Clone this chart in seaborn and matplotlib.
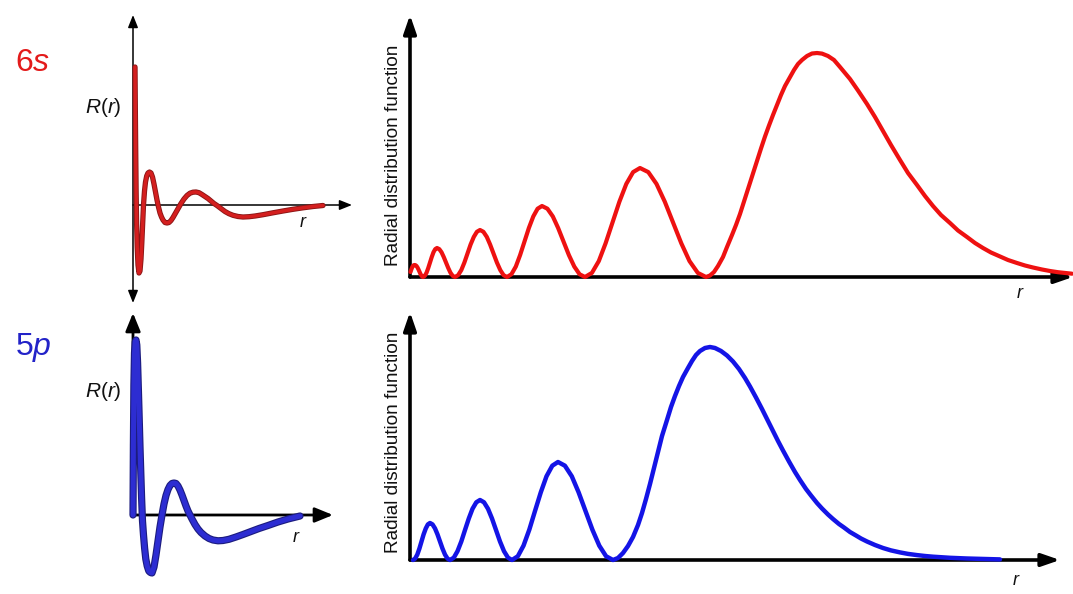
import matplotlib
matplotlib.use("Agg")
import numpy as np
import matplotlib.pyplot as plt
import matplotlib.patheffects as pe
import seaborn as sns

# --- values (arbitrary units) ---
# 6s radial wavefunction R(r)
r_6s_wave = [2, 2.3, 2.7, 3.1, 3.6, 4.2, 5, 6, 7, 8, 8.8, 9.6, 10.5, 11.5, 12.5, 13.7, 15,
             16.5, 18, 19.5, 21, 22.5, 24, 25.5, 27, 28.5, 30, 32, 34, 36, 38, 40, 42, 44,
             46, 48, 51, 54, 57, 60, 63, 66, 69, 72, 75, 78, 81, 84, 88, 92, 96, 100, 105,
             110, 116, 122, 130, 140, 150, 160, 170, 180, 190]
R_6s = [138, 100, 55, 15, -18, -42, -60, -68, -66, -54, -38, -20, 0, 14, 23, 29, 32,
        33, 32, 28, 21, 13, 5, -2, -8, -12, -15, -17.5, -18, -17.5, -15.5, -12.5, -9, -5.5,
        -2, 1.5, 6, 9.5, 11.8, 12.8, 13, 12.3, 10.5, 8.5, 6.5, 4, 1.5, -0.5, -3.5, -6.5, -8.7,
        -10.3, -11.5, -12, -11.7, -11, -9.7, -7.8, -6, -4.3, -2.8, -1.5, -0.5]

# 5p radial wavefunction R(r)
r_5p_wave = [0, 0.4, 0.9, 1.5, 2.2, 3, 3.8, 4.6, 5.4, 6.2, 7, 7.8, 8.6, 9.5, 10.5, 11.6,
             12.8, 14.2, 15.8, 17.4, 19, 21, 23, 25, 27, 29, 31, 33, 35, 37, 39, 41, 43, 45,
             47, 49, 51, 53, 55, 57, 59, 62, 65, 68, 72, 76, 80, 85, 90, 96, 103, 110, 118,
             126, 135, 145, 155, 167]
R_5p = [0, 70, 130, 162, 173, 175, 170, 152, 125, 97, 68, 42, 17, -6, -20, -33,
        -44, -51, -56, -57.5, -58, -52, -40, -26, -12, 0, 11, 19.5, 25.5, 29.5, 31.5, 32, 31.5, 29,
        25, 20, 14.5, 9, 4, 0, -4, -9.5, -14, -17.5, -21, -23.5, -25, -25.8, -25.5, -24.3, -22, -19.5, -16.5,
        -13.5, -10.5, -7, -4, -1]

# 6s radial distribution function
r_6s_rdf = [0.5, 1.5, 2.5, 3.5, 4.5, 5.5, 6.5, 7.5, 8.5, 9.5, 10.5, 11.5, 12.5, 13,
            14.75, 16.5, 18.25, 20, 21.75, 23.5, 25.25, 27,
            29.25, 31.5, 33.75, 36, 38.25, 40.5, 42.75, 45,
            48.1, 51.3, 54.4, 57.5, 60.6, 63.8, 66.9, 70,
            73.4, 76.8, 80.1, 83.5, 86.9, 90.3, 93.6, 97,
            101.4, 105.8, 110.1, 114.5, 118.9, 123.3, 127.6, 132,
            137.4, 142.8, 148.1, 153.5, 158.9, 164.3, 169.6, 175,
            181.9, 188.8, 195.6, 202.5, 209.4, 216.3, 223.1, 230,
            238.3, 246.5, 254.8, 263, 271.3, 279.5, 287.8, 296,
            300, 304, 308, 313, 317, 322, 326, 330, 334, 338, 342, 347, 351, 355, 359, 363,
            367, 371, 375, 380, 384, 388, 392, 397, 402, 407, 412, 418, 424, 430, 440, 448,
            457, 465, 473, 481, 490, 498, 507, 515, 523, 531, 540, 548, 557, 565, 573, 581,
            590, 598, 607, 615, 623, 632, 640, 648, 657, 662]
P_6s = [5, 8, 10.5, 11.7, 12, 11.8, 11, 9.5, 7.5, 5.2, 3, 1.2, 0.2, 0,
        1.1, 4.2, 9.0, 14.5, 20.0, 24.8, 27.9, 29,
        27.9, 24.8, 20.0, 14.5, 9.0, 4.2, 1.1, 0,
        1.8, 6.9, 14.5, 23.5, 32.5, 40.1, 45.2, 47,
        45.2, 40.1, 32.5, 23.5, 14.5, 6.9, 1.8, 0,
        2.7, 10.4, 21.9, 35.5, 49.1, 60.6, 68.3, 71,
        68.3, 60.6, 49.1, 35.5, 21.9, 10.4, 2.7, 0,
        4.1, 15.9, 33.7, 54.5, 75.3, 93.1, 104.9, 109,
        104.9, 93.1, 75.3, 54.5, 33.7, 15.9, 4.1, 0,
        1.5, 5, 11, 20, 30, 42, 52, 63, 75.5, 88, 100.5, 116, 128.5, 140.5, 151.5, 162,
        172, 182, 191, 200, 207, 213, 217, 221, 223.5, 224, 223.4, 221, 217, 210, 198, 186.5,
        173, 160, 146, 132, 117, 104, 92, 81, 71, 62, 54, 46.5, 40, 34, 29, 24.5,
        20.5, 17, 14, 11.5, 9.5, 7.5, 6, 4.8, 3.8, 3.3]

# 5p radial distribution function
r_5p_rdf = [3, 5.1, 7.3, 9.4, 11.5, 13.6, 15.8, 17.9, 20,
            22.5, 25, 27.5, 30, 32.5, 35, 37.5, 40,
            43.8, 47.5, 51.3, 55, 58.8, 62.5, 66.3, 70,
            74, 78, 82, 86, 90, 94, 98, 102,
            107.8, 113.5, 119.3, 125, 130.8, 136.5, 142.3, 148,
            154.9, 161.8, 168.6, 175.5, 182.4, 189.3, 196.1, 203,
            208, 213, 218, 223, 228, 232, 236, 240, 244, 248, 252, 257, 261, 265, 269, 273,
            278, 282, 286, 290, 295, 300, 305, 311, 317, 323, 329, 335, 340, 346, 352, 357,
            362, 368, 373, 379, 385, 390, 396, 401, 407, 412, 418, 423, 429, 434, 440, 446,
            451, 457, 465, 473, 481, 490, 498, 507, 515, 523, 540, 557, 575, 590]
P_5p = [0, 1.4, 5.4, 11.4, 18.5, 25.6, 31.6, 35.6, 37,
        35.6, 31.6, 25.6, 18.5, 11.4, 5.4, 1.4, 0,
        2.3, 8.8, 18.5, 30, 41.5, 51.2, 57.7, 60,
        57.7, 51.2, 41.5, 30, 18.5, 8.8, 2.3, 0,
        3.7, 14.3, 30.3, 49, 67.7, 83.7, 94.3, 98,
        94.3, 83.7, 67.7, 49, 30.3, 14.3, 3.7, 0,
        2, 7, 14, 23, 35, 47, 61, 76, 92, 108, 124, 140, 153, 164, 174, 183,
        192, 199, 205, 209, 212, 213, 212, 209, 204.5, 198.5, 191, 182, 173.5, 162.5, 151, 141,
        131, 119, 109.5, 98.5, 88, 80, 71, 64.5, 57, 51.5, 45.5, 41, 36, 32.5, 28, 24.5,
        21.5, 18.5, 15, 12, 9.6, 7.6, 6.1, 4.9, 4, 3.3, 2.2, 1.5, 1, 0.6]

orbital_labels = ["6s", "5p"]

RED = "#ee1111"
BLUE = "#1414e6"

sns.set_style("white")
plt.rcParams["font.family"] = ["Liberation Sans", "DejaVu Sans"]
plt.rcParams["mathtext.fontset"] = "custom"
plt.rcParams["mathtext.rm"] = "Liberation Sans"
plt.rcParams["mathtext.it"] = "Liberation Sans:italic"

W, H = 1073, 594
fig = plt.figure(figsize=(W / 100, H / 100), dpi=100)


def px_axes(x0, x1, ytop, ybot):
    ax = fig.add_axes([x0 / W, 1 - ybot / H, (x1 - x0) / W, (ybot - ytop) / H])
    ax.set_axis_off()
    return ax


def axis_arrow(ax, start, end, lw, hl, hw, both=False):
    style = ("<|-|>" if both else "-|>") + f",head_length={hl},head_width={hw}"
    ax.annotate("", xy=end, xytext=start, annotation_clip=False,
                arrowprops=dict(arrowstyle=style, lw=lw, color="black",
                                shrinkA=0, shrinkB=0))


def curve(ax, x, y, color, lw, edge=None, edge_lw=None):
    sns.lineplot(x=x, y=y, ax=ax, color=color, lw=lw, sort=False,
                 estimator=None, zorder=5)
    line = ax.lines[-1]
    line.set_clip_on(False)
    line.set_solid_capstyle("round")
    line.set_solid_joinstyle("round")
    if edge is not None:
        line.set_path_effects([pe.Stroke(linewidth=edge_lw, foreground=edge),
                               pe.Normal()])


# top left: 6s R(r)
ax = px_axes(133, 352, 15, 303)
ax.set_xlim(0, 219)
ax.set_ylim(-98, 190)
axis_arrow(ax, (0, -98), (0, 190), 1.1, 0.75, 0.3, both=True)
axis_arrow(ax, (0, 0), (219, 0), 1.1, 0.75, 0.3)
curve(ax, r_6s_wave, R_6s, "#d41f1f", 2.5, edge="#8a1616", edge_lw=3.8)

# bottom left: 5p R(r)
ax = px_axes(133, 333, 313, 585)
ax.set_xlim(0, 200)
ax.set_ylim(-70, 202)
axis_arrow(ax, (0, 0), (0, 202), 2.0, 1.1, 0.45)
axis_arrow(ax, (0, 0), (200, 0), 2.0, 1.1, 0.45)
curve(ax, r_5p_wave, R_5p, "#2d2dd2", 3.6, edge="#1c1c7e", edge_lw=5.2)

# top right: 6s radial distribution function
ax = px_axes(410, 1073, 15, 277)
ax.set_xlim(0, 663)
ax.set_ylim(0, 262)
axis_arrow(ax, (0, 0), (0, 262), 2.6, 1.1, 0.38)
axis_arrow(ax, (0, 0), (663, 0), 2.6, 1.1, 0.38)
curve(ax, r_6s_rdf, P_6s, RED, 3.0)

# bottom right: 5p radial distribution function
ax = px_axes(410, 1060, 312, 560)
ax.set_xlim(0, 650)
ax.set_ylim(0, 248)
axis_arrow(ax, (0, 0), (0, 248), 2.6, 1.1, 0.38)
axis_arrow(ax, (0, 0), (650, 0), 2.6, 1.1, 0.38)
curve(ax, r_5p_rdf, P_5p, BLUE, 3.2)


def ftext(x, y, s, **kw):
    fig.text(x / W, 1 - y / H, s, **kw)


# labels
ftext(33, 71, orbital_labels[0][0] + "$" + orbital_labels[0][1] + "$", color="#e31b1b",
      fontsize=23, ha="center", va="baseline")
ftext(33, 355, orbital_labels[1][0] + "$" + orbital_labels[1][1] + "$", color="#2323c8",
      fontsize=23, ha="center", va="baseline")
for y in (113, 397):
    ftext(103, y, "$R$($r$)", fontsize=15, ha="center", va="baseline", color="#111111")
for x, y in ((303, 227), (296, 542), (1020, 298), (1016, 585)):
    ftext(x, y, "r", fontsize=13, style="italic", ha="center", va="baseline", color="#111111")
for y in (155, 442):
    ftext(394, y, "Radial distribution function", fontsize=13.7, rotation=90,
          ha="center", va="center", color="#111111")

fig.savefig("out.png", dpi=100, facecolor="white")
